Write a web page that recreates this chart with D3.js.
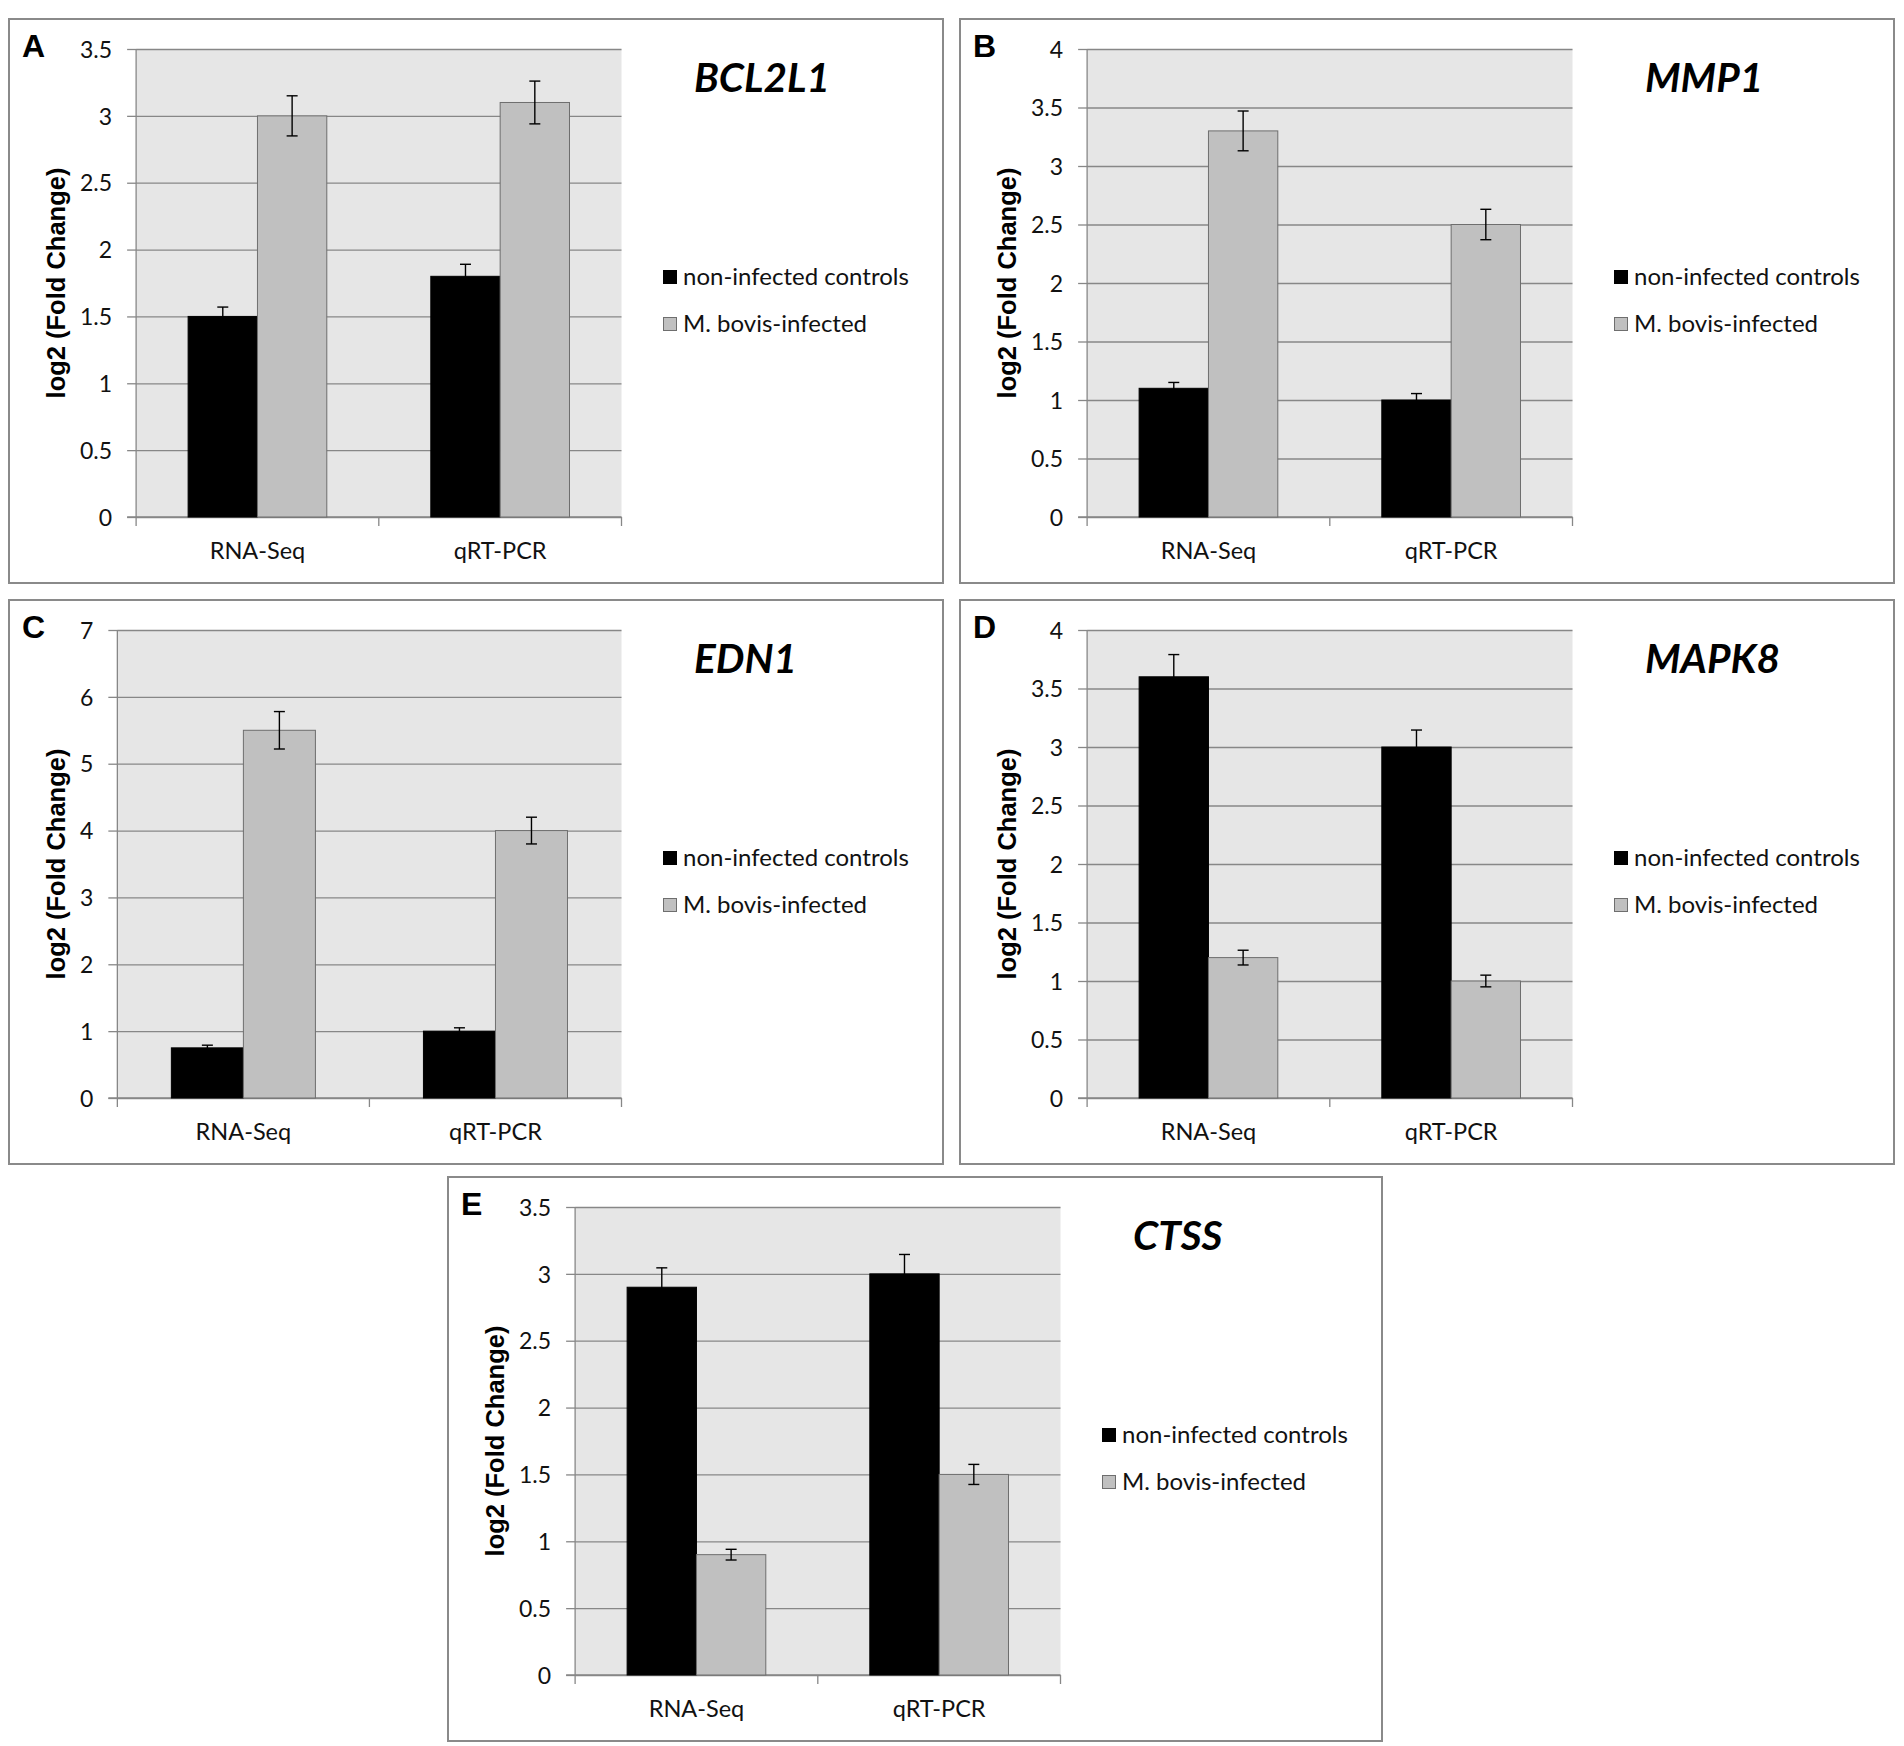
<!DOCTYPE html>
<html>
<head>
<meta charset="utf-8">
<script src="https://cdn.jsdelivr.net/npm/d3@7"></script>
<style>
  body { margin: 0; background: #fff; }
  svg { display: block; }
</style>
</head>
<body>
<script>
var W = 1904, H = 1746;

// chart data
var genes = ['BCL2L1', 'MMP1', 'EDN1', 'MAPK8', 'CTSS'];
var panelLetters = ['A', 'B', 'C', 'D', 'E'];
var categories = ['RNA-Seq', 'qRT-PCR'];
var seriesNames = ['non-infected controls', 'M. bovis-infected'];
var controlValues  = [[1.5, 1.8], [1.1, 1.0], [0.75, 1.0], [3.6, 3.0], [2.9, 3.0]];
var controlErrors  = [[0.07, 0.09], [0.05, 0.055], [0.04, 0.05], [0.19, 0.145], [0.145, 0.145]];
var infectedValues = [[3.0, 3.1], [3.3, 2.5], [5.5, 4.0], [1.2, 1.0], [0.9, 1.5]];
var infectedErrors = [[0.15, 0.16], [0.17, 0.13], [0.28, 0.2], [0.063, 0.05], [0.04, 0.075]];
var yMax  = [3.5, 4, 7, 4, 3.5];
var yStep = [0.5, 0.5, 1, 0.5, 0.5];

// where each panel sits on the page
var panelOrigins = [[0, 0], [951, 0], [0, 581], [951, 581], [439, 1158]];

var seriesFill = ['#000000', '#c0c0c0'];
var seriesStroke = ['#000000', '#6e6e6e'];
var axisColor = '#878787';
var bodyFont = 'Lato, "Open Sans", sans-serif';

var svg = d3.select('body').append('svg')
    .attr('width', W)
    .attr('height', H);

svg.append('rect')
    .attr('width', W)
    .attr('height', H)
    .attr('fill', '#fff');

function fmt(d) { return String(+d.toFixed(2)); }

function drawPanel(i) {
    var g = svg.append('g')
        .attr('transform', 'translate(' + panelOrigins[i][0] + ',' + panelOrigins[i][1] + ')');

    g.append('rect')
        .attr('x', 9).attr('y', 19)
        .attr('width', 934).attr('height', 564)
        .attr('fill', '#fff')
        .attr('stroke', '#8a8a8a')
        .attr('stroke-width', 2);

    var top = 49, bottom = 517, right = 621.5;
    var ticks = d3.range(0, yMax[i] + yStep[i] / 2, yStep[i]);

    // measure tick labels so the plot starts where Excel would put it
    var probe = g.append('g').selectAll('text')
        .data(ticks)
        .enter()
        .append('text')
        .attr('font-family', bodyFont)
        .attr('font-size', 23)
        .text(fmt);
    var maxW = 0;
    probe.each(function() { maxW = Math.max(maxW, this.getComputedTextLength()); });
    probe.remove();
    var left = 80 + maxW + 24;

    var y = d3.scaleLinear().domain([0, yMax[i]]).range([bottom, top]);
    var x0 = d3.scaleBand().domain(categories).range([left, right]);
    var x1 = d3.scaleBand().domain(seriesNames)
        .range([0, x0.bandwidth()])
        .paddingInner(0)
        .paddingOuter(0.75);

    g.append('rect')
        .attr('x', left).attr('y', top)
        .attr('width', right - left).attr('height', bottom - top)
        .attr('fill', '#e6e6e6');

    // gridlines
    var grid = g.append('g')
        .attr('transform', 'translate(' + left + ',0)')
        .call(d3.axisLeft(y).tickValues(ticks).tickSize(-(right - left)).tickFormat(''));
    grid.select('.domain').remove();
    grid.selectAll('line').attr('stroke', axisColor).attr('stroke-width', 1.3);

    // y axis with labels
    var ya = g.append('g')
        .attr('transform', 'translate(' + left + ',0)')
        .call(d3.axisLeft(y).tickValues(ticks).tickSize(9).tickPadding(15).tickFormat(fmt));
    ya.select('.domain').attr('stroke', axisColor).attr('stroke-width', 1.3)
        .attr('d', 'M0,' + top + 'V' + bottom);
    ya.selectAll('line').attr('stroke', axisColor).attr('stroke-width', 1.3);
    ya.selectAll('text')
        .attr('font-family', bodyFont)
        .attr('font-size', 23)
        .attr('fill', '#111')
        .attr('dy', '0.36em');

    // x axis
    var xa = g.append('g')
        .attr('transform', 'translate(0,' + bottom + ')')
        .call(d3.axisBottom(x0).tickSize(0).tickPadding(25));
    xa.select('.domain').remove();
    xa.selectAll('text')
        .attr('font-family', bodyFont)
        .attr('font-size', 23.5)
        .attr('fill', '#111');
    g.append('line')
        .attr('x1', left - 9).attr('x2', right)
        .attr('y1', bottom).attr('y2', bottom)
        .attr('stroke', axisColor).attr('stroke-width', 1.3);
    var bounds = categories.map(function(c) { return x0(c); }).concat([right]);
    g.selectAll('.xtick')
        .data(bounds)
        .enter()
        .append('line')
        .attr('class', 'xtick')
        .attr('x1', function(d) { return d; })
        .attr('x2', function(d) { return d; })
        .attr('y1', bottom)
        .attr('y2', bottom + 9)
        .attr('stroke', axisColor).attr('stroke-width', 1.3);

    // bars
    var rows = [];
    categories.forEach(function(c, k) {
        rows.push({ cat: c, s: 0, v: controlValues[i][k], e: controlErrors[i][k] });
        rows.push({ cat: c, s: 1, v: infectedValues[i][k], e: infectedErrors[i][k] });
    });

    g.selectAll('.bar')
        .data(rows)
        .enter()
        .append('rect')
        .attr('class', 'bar')
        .attr('x', function(d) { return x0(d.cat) + x1(seriesNames[d.s]); })
        .attr('y', function(d) { return y(d.v); })
        .attr('width', x1.bandwidth())
        .attr('height', function(d) { return bottom - y(d.v); })
        .attr('fill', function(d) { return seriesFill[d.s]; })
        .attr('stroke', function(d) { return seriesStroke[d.s]; })
        .attr('stroke-width', 1);

    // error bars
    var eb = g.selectAll('.err')
        .data(rows)
        .enter()
        .append('g')
        .attr('class', 'err')
        .attr('stroke', '#000')
        .attr('stroke-width', 1.4);
    function cx(d) { return x0(d.cat) + x1(seriesNames[d.s]) + x1.bandwidth() / 2; }
    eb.append('line')
        .attr('x1', cx).attr('x2', cx)
        .attr('y1', function(d) { return y(d.v + d.e); })
        .attr('y2', function(d) { return y(d.v - d.e); });
    [1, -1].forEach(function(sign) {
        eb.append('line')
            .attr('x1', function(d) { return cx(d) - 5.5; })
            .attr('x2', function(d) { return cx(d) + 5.5; })
            .attr('y1', function(d) { return y(d.v + sign * d.e); })
            .attr('y2', function(d) { return y(d.v + sign * d.e); });
    });

    // y title
    g.append('text')
        .attr('transform', 'translate(65,' + ((top + bottom) / 2) + ') rotate(-90)')
        .attr('text-anchor', 'middle')
        .attr('font-family', '"Liberation Sans", Arial, sans-serif')
        .attr('font-weight', 'bold')
        .attr('font-size', 25.5)
        .attr('fill', '#000')
        .text('log2 (Fold Change)');

    // panel letter
    g.append('text')
        .attr('x', 22).attr('y', 57)
        .attr('font-family', '"Liberation Sans", Arial, sans-serif')
        .attr('font-weight', 'bold')
        .attr('font-size', 32)
        .text(panelLetters[i]);

    // gene name
    g.append('text')
        .attr('x', 694).attr('y', 92)
        .attr('font-family', bodyFont)
        .attr('font-weight', 'bold')
        .attr('font-style', 'italic')
        .attr('font-size', 40.5)
        .text(genes[i]);

    // legend
    var lg = g.selectAll('.leg')
        .data(seriesNames)
        .enter()
        .append('g')
        .attr('class', 'leg')
        .attr('transform', function(d, k) { return 'translate(663,' + (277 + k * 47) + ')'; });
    lg.append('rect')
        .attr('x', 0.5).attr('y', -6.5)
        .attr('width', 13).attr('height', 13)
        .attr('fill', function(d, k) { return seriesFill[k]; })
        .attr('stroke', function(d, k) { return seriesStroke[k]; });
    lg.append('text')
        .attr('x', 20).attr('y', 7.5)
        .attr('font-family', bodyFont)
        .attr('font-size', 24)
        .attr('fill', '#111')
        .text(function(d) { return d; });
}

genes.forEach(function(gname, i) { drawPanel(i); });
</script>
</body>
</html>
